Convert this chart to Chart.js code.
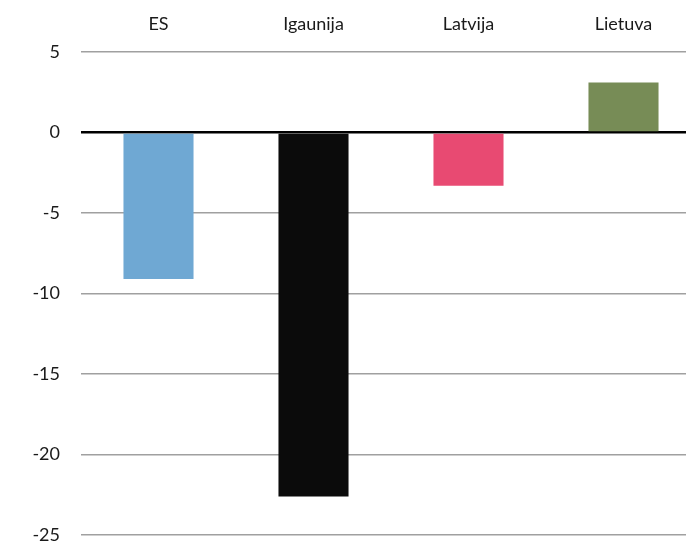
<!DOCTYPE html>
<html>
<head>
<meta charset="utf-8">
<script src="https://cdn.jsdelivr.net/npm/chart.js@4/dist/chart.umd.min.js"></script>
<style>
  html, body { margin: 0; padding: 0; background: #fff; overflow: hidden; }
  #wrap { width: 701px; height: 567px; }
</style>
</head>
<body>
<div id="wrap"><canvas id="barChart" width="701" height="567"></canvas></div>
<script>
// chart values
const countries = ['ES', 'Igaunija', 'Latvija', 'Lietuva'];
const changes = [-9.1, -22.6, -3.3, 3.1];
const barColors = ['#6fa8d3', '#0b0b0b', '#e84a72', '#778c56'];
const yMin = -25;
const yMax = 5;
const yStep = 5;

const ctx = document.getElementById('barChart').getContext('2d');

new Chart(ctx, {
    type: 'bar',
    data: {
        labels: countries,
        datasets: [{
            data: changes,
            backgroundColor: barColors,
            borderWidth: 0,
            barPercentage: 1,
            categoryPercentage: 0.452
        }]
    },
    options: {
        responsive: false,
        animation: false,
        layout: { padding: { top: 0, right: 0, bottom: 9, left: 0 } },
        plugins: {
            legend: { display: false },
            tooltip: { enabled: false }
        },
        scales: {
            x: {
                position: 'top',
                grid: { display: false },
                border: { display: false },
                ticks: {
                    color: '#1a1a1a',
                    padding: 9,
                    font: { family: 'Lato', size: 18 }
                },
                afterFit: (axis) => { axis.height = 52; }
            },
            y: {
                min: yMin,
                max: yMax,
                ticks: {
                    stepSize: yStep,
                    color: '#1a1a1a',
                    padding: 21,
                    font: { family: 'Lato', size: 18 }
                },
                grid: {
                    drawTicks: false,
                    color: (c) => c.tick && c.tick.value === 0 ? '#000' : '#a0a0a0',
                    lineWidth: (c) => c.tick && c.tick.value === 0 ? 2.5 : 1.5
                },
                border: { display: false },
                afterFit: (axis) => { axis.width = 81; }
            }
        }
    }
});
</script>
</body>
</html>
